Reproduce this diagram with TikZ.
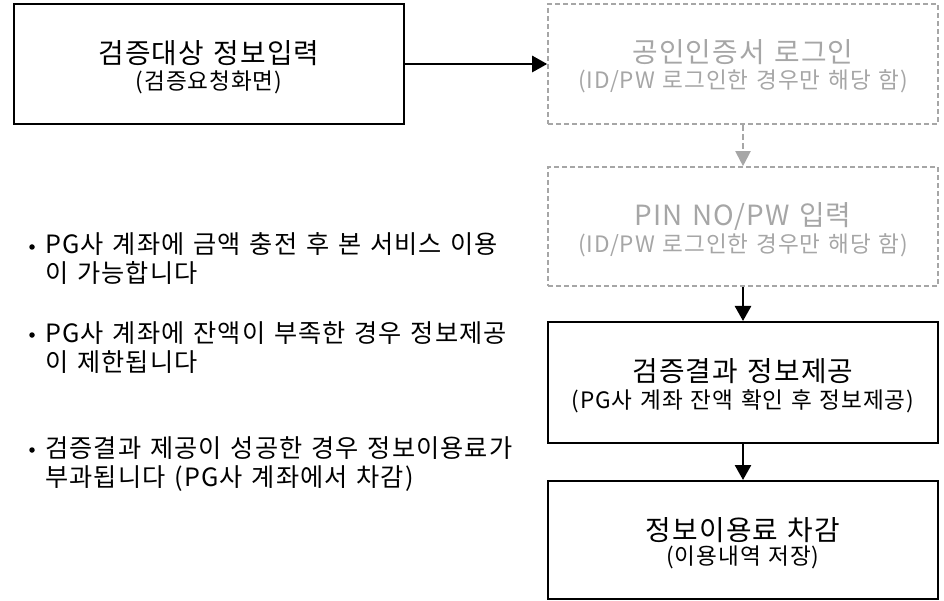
\documentclass[tikz,border=0pt]{standalone}
\usepackage{fontspec}
\setmainfont{Noto Sans CJK KR}
\newfontfamily\spfont[LetterSpace=4,WordSpace=1.3]{Noto Sans CJK KR}
\newfontfamily\spbfont[LetterSpace=4.5,WordSpace=1.3]{Noto Sans CJK KR}
\usetikzlibrary{arrows.meta}
\definecolor{lgray}{RGB}{166,166,166}
\tikzset{
  box/.style={draw=black, line width=2pt, minimum width=390pt, inner sep=0pt},
  gbox/.style={draw=lgray, line width=1.6pt, dash pattern=on 5pt off 3pt, minimum width=390pt, inner sep=0pt},
  ttl/.style={inner sep=0pt, anchor=center, font=\spfont\fontsize{27.8}{32}\selectfont},
  sub/.style={inner sep=0pt, anchor=center, font=\spfont\fontsize{22.6}{26}\selectfont},
  bl/.style={inner sep=0pt, anchor=base west, font=\spbfont\fontsize{25.2}{28}\selectfont},
  arr/.style={line width=2.6pt, -{Triangle[length=15pt,width=16pt]}},
  garr/.style={draw=lgray, line width=2pt, dash pattern=on 6pt off 3pt, -{Triangle[length=15pt,width=15pt,fill=lgray]}, lgray},
  dot/.style={fill=black, circle, inner sep=0pt, minimum size=5.5pt}
}
\begin{document}
\begin{tikzpicture}[x=1pt,y=-1pt]
\useasboundingbox (0,0) rectangle (944,601);
% boxes
\node[box, minimum height=120pt] (b1) at (209,64) {};
\node[gbox, minimum height=120pt] (b2) at (743,64) {};
\node[gbox, minimum height=119pt] (b3) at (743,226.5) {};
\node[box, minimum height=121pt] (b4) at (743,382.5) {};
\node[box, minimum height=118pt] (b5) at (743,540) {};
% box texts
\node[ttl] (t1) at (209,53.5) {검증대상 정보입력};
\node[sub] (s1) at (209,82.5) {(검증요청화면)};
\node[ttl, text=lgray] (t2) at (743,52) {공인인증서 로그인};
\node[sub, text=lgray] (s2) at (743,81.5) {(ID/PW 로그인한 경우만 해당 함)};
\node[ttl, text=lgray] (t3) at (743,216) {PIN NO/PW 입력};
\node[sub, text=lgray] (s3) at (743,245) {(ID/PW 로그인한 경우만 해당 함)};
\node[ttl] (t4) at (743,371.5) {검증결과 정보제공};
\node[sub] (s4) at (743,401) {(PG사 계좌 잔액 확인 후 정보제공)};
\node[ttl] (t5) at (743,530) {정보이용료 차감};
\node[sub] (s5) at (743,557) {(이용내역 저장)};
% arrows
\draw[arr] (b1.east) -- (b2.west);
\draw[garr] (b2.south) -- (b3.north);
\draw[arr] (b3.south) -- (b4.north);
\draw[arr] (b4.south) -- (b5.north);
% bullets
\node[dot] (d1) at (32,247) {};
\node[bl] (l1a) at (45,254) {PG사 계좌에 금액 충전 후 본 서비스 이용};
\node[bl] (l1b) at (45,283) {이 가능합니다};
\node[dot] (d2) at (32,335) {};
\node[bl] (l2a) at (45,342) {PG사 계좌에 잔액이 부족한 경우 정보제공};
\node[bl] (l2b) at (45,371) {이 제한됩니다};
\node[dot] (d3) at (32,450) {};
\node[bl] (l3a) at (45,457) {검증결과 제공이 성공한 경우 정보이용료가};
\node[bl] (l3b) at (45,486) {부과됩니다 (PG사 계좌에서 차감)};
\end{tikzpicture}
\end{document}
